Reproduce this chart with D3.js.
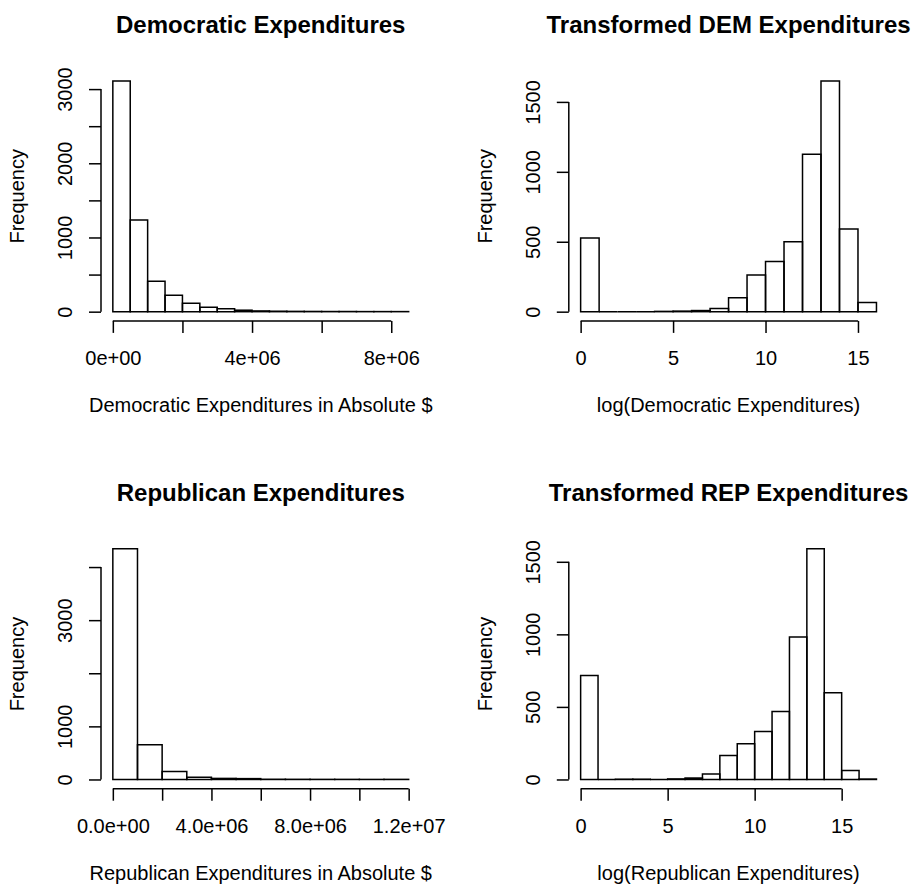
<!DOCTYPE html>
<html>
<head>
<meta charset="utf-8">
<script src="https://cdn.jsdelivr.net/npm/d3@7"></script>
<style>
  body { margin: 0; background: #fff; }
  svg { display: block; }
  text { font-family: "Liberation Sans", Arial, Helvetica, sans-serif; fill: #000; }
</style>
</head>
<body>
<svg id="chart" width="912" height="884"></svg>
<script>
// Democratic expenditures, absolute $ (bins of 500k)
const demAbsBreaks = [0, 500000, 1000000, 1500000, 2000000, 2500000, 3000000, 3500000, 4000000,
  4500000, 5000000, 5500000, 6000000, 6500000, 7000000, 7500000, 8000000, 8500000];
const demAbsCounts = [3110, 1236, 410, 221, 114, 60, 38, 20, 10, 6, 4, 3, 2, 2, 1, 1, 1];
const demAbsXTicks = [0, 2000000, 4000000, 6000000, 8000000];
const demAbsXLabels = ["0e+00", "", "4e+06", "", "8e+06"];
const demAbsYTicks = [0, 500, 1000, 1500, 2000, 2500, 3000];
const demAbsYLabels = ["0", "", "1000", "", "2000", "", "3000"];

// log(Democratic expenditures)
const demLogBreaks = [0, 1, 2, 3, 4, 5, 6, 7, 8, 9, 10, 11, 12, 13, 14, 15, 16];
const demLogCounts = [526, 0, 0, 0, 2, 4, 8, 22, 100, 263, 359, 500, 1125, 1650, 591, 65];
const logXTicks = [0, 5, 10, 15];
const logXLabels = ["0", "5", "10", "15"];
const logYTicks = [0, 500, 1000, 1500];
const logYLabels = ["0", "500", "1000", "1500"];

// Republican expenditures, absolute $ (bins of 1M)
const repAbsBreaks = [0, 1000000, 2000000, 3000000, 4000000, 5000000, 6000000, 7000000,
  8000000, 9000000, 10000000, 11000000, 12000000];
const repAbsCounts = [4345, 655, 148, 42, 20, 16, 4, 3, 2, 2, 1, 2];
const repAbsXTicks = [0, 2000000, 4000000, 6000000, 8000000, 10000000, 12000000];
const repAbsXLabels = ["0.0e+00", "", "4.0e+06", "", "8.0e+06", "", "1.2e+07"];
const repAbsYTicks = [0, 1000, 2000, 3000, 4000];
const repAbsYLabels = ["0", "1000", "", "3000", ""];

// log(Republican expenditures)
const repLogBreaks = [0, 1, 2, 3, 4, 5, 6, 7, 8, 9, 10, 11, 12, 13, 14, 15, 16, 17];
const repLogCounts = [717, 0, 2, 2, 0, 4, 10, 37, 165, 246, 331, 469, 981, 1590, 597, 62, 3];

const panels = [
  { col: 0, row: 0, title: "Democratic Expenditures", xLabel: "Democratic Expenditures in Absolute $",
    breaks: demAbsBreaks, counts: demAbsCounts, xTicks: demAbsXTicks, xLabels: demAbsXLabels,
    yTicks: demAbsYTicks, yLabels: demAbsYLabels },
  { col: 1, row: 0, title: "Transformed DEM Expenditures", xLabel: "log(Democratic Expenditures)",
    breaks: demLogBreaks, counts: demLogCounts, xTicks: logXTicks, xLabels: logXLabels,
    yTicks: logYTicks, yLabels: logYLabels },
  { col: 0, row: 1, title: "Republican Expenditures", xLabel: "Republican Expenditures in Absolute $",
    breaks: repAbsBreaks, counts: repAbsCounts, xTicks: repAbsXTicks, xLabels: repAbsXLabels,
    yTicks: repAbsYTicks, yLabels: repAbsYLabels },
  { col: 1, row: 1, title: "Transformed REP Expenditures", xLabel: "log(Republican Expenditures)",
    breaks: repLogBreaks, counts: repLogCounts, xTicks: logXTicks, xLabels: logXLabels,
    yTicks: logYTicks, yLabels: logYLabels }
];

const svg = d3.select("#chart");
const step = 467.8;             // panel pitch
const plot = { left: 101, top: 71.7, width: 319.5, height: 249.2 };
const lw = 1.5;
const fontFam = "'Liberation Sans', Arial, Helvetica, sans-serif";

panels.forEach(p => {
  const g = svg.append("g")
    .attr("transform", `translate(${p.col * step + plot.left},${p.row * step + plot.top})`);

  // R style 4% extension on both axes
  const x0 = p.breaks[0], x1 = p.breaks[p.breaks.length - 1];
  const xPad = (x1 - x0) * 0.04;
  const x = d3.scaleLinear().domain([x0 - xPad, x1 + xPad]).range([0, plot.width]);
  const yMax = d3.max(p.counts);
  const y = d3.scaleLinear().domain([-yMax * 0.04, yMax * 1.04]).range([plot.height, 0]);

  const bins = p.counts.map((c, i) => ({ x0: p.breaks[i], x1: p.breaks[i + 1], n: c }));

  // bars as closed paths so empty bins still show as a line on the baseline
  g.selectAll("path.bar")
    .data(bins)
    .enter().append("path")
    .attr("class", "bar")
    .attr("d", d => {
      const p0 = d3.path();
      p0.moveTo(x(d.x0), y(0));
      p0.lineTo(x(d.x0), y(d.n));
      p0.lineTo(x(d.x1), y(d.n));
      p0.lineTo(x(d.x1), y(0));
      p0.closePath();
      return p0.toString();
    })
    .style("fill", "none")
    .style("stroke", "#000")
    .style("stroke-width", lw);

  // x axis
  const xAxis = g.append("g")
    .attr("transform", `translate(0,${plot.height})`)
    .call(d3.axisBottom(x).tickValues(p.xTicks).tickSize(12).tickFormat((d, i) => p.xLabels[i]));
  xAxis.select(".domain").remove();
  xAxis.append("line")
    .attr("x1", x(p.xTicks[0])).attr("x2", x(p.xTicks[p.xTicks.length - 1]))
    .attr("stroke", "#000").attr("stroke-width", lw);
  xAxis.selectAll(".tick line").attr("stroke-width", lw);
  xAxis.selectAll(".tick text")
    .attr("y", 44).attr("dy", null)
    .style("font-size", "20px")
    .style("font-family", fontFam);

  // y axis
  const yAxis = g.append("g")
    .call(d3.axisLeft(y).tickValues(p.yTicks).tickSize(12).tickFormat((d, i) => p.yLabels[i]));
  yAxis.select(".domain").remove();
  yAxis.append("line")
    .attr("y1", y(p.yTicks[0])).attr("y2", y(p.yTicks[p.yTicks.length - 1]))
    .attr("stroke", "#000").attr("stroke-width", lw);
  yAxis.selectAll(".tick line").attr("stroke-width", lw);
  yAxis.selectAll(".tick text")
    .attr("x", 0).attr("y", -29.3).attr("dy", null)
    .attr("transform", "rotate(-90)")
    .attr("text-anchor", "middle")
    .style("font-size", "20px")
    .style("font-family", fontFam);

  // titles
  g.append("text")
    .attr("x", plot.width / 2).attr("y", -38.4)
    .attr("text-anchor", "middle")
    .style("font-size", "24px").style("font-weight", "bold")
    .text(p.title);

  g.append("text")
    .attr("x", plot.width / 2).attr("y", plot.height + 91.4)
    .attr("text-anchor", "middle")
    .style("font-size", "20px")
    .text(p.xLabel);

  g.append("text")
    .attr("transform", `translate(-76.7,${plot.height / 2}) rotate(-90)`)
    .attr("text-anchor", "middle")
    .style("font-size", "20px")
    .text("Frequency");
});
</script>
</body>
</html>
